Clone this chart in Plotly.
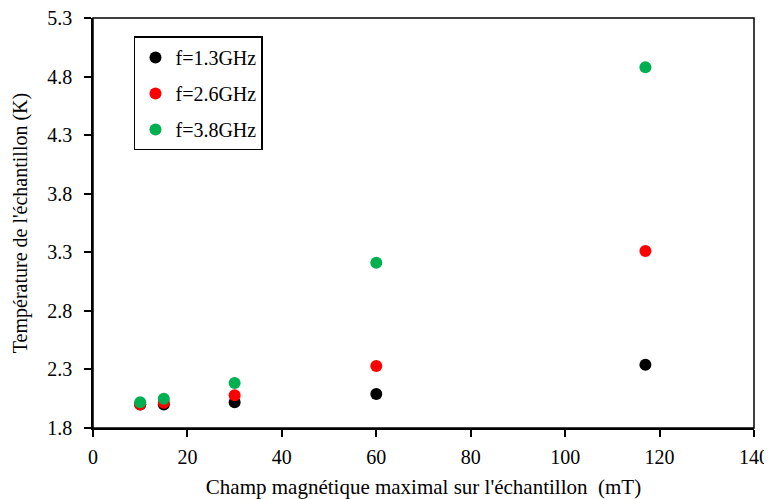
import plotly.graph_objects as go

field_mT = [10, 15, 30, 60, 117]
temp_13 = [2.00, 2.00, 2.02, 2.09, 2.34]
temp_26 = [2.00, 2.015, 2.08, 2.33, 3.31]
temp_38 = [2.02, 2.05, 2.185, 3.21, 4.88]
series_names = ["f=1.3GHz", "f=2.6GHz", "f=3.8GHz"]
series_colors = ["#000000", "#FF0000", "#00B050"]
x_ticks = [0, 20, 40, 60, 80, 100, 120, 140]
y_ticks = [1.8, 2.3, 2.8, 3.3, 3.8, 4.3, 4.8, 5.3]

FONT = "Liberation Serif, Times New Roman, serif"

fig = go.Figure()
for i, (name, ys, col) in enumerate(zip(series_names, [temp_13, temp_26, temp_38], series_colors)):
    fig.add_trace(go.Scatter(
        x=field_mT, y=ys, mode="markers", name=name,
        legendgroup=f"g{i}",
        marker=dict(color=col, size=12, line=dict(width=0)),
    ))

# page body has an 8px default margin, so the figure is 8px smaller than the window
fig.update_layout(
    width=764, height=491,
    margin=dict(l=85, r=18, t=10, b=71),
    plot_bgcolor="white", paper_bgcolor="white",
    font=dict(family=FONT, size=20, color="black"),
    showlegend=True,
    legend=dict(
        x=0.062, y=0.955, xanchor="left", yanchor="top",
        bordercolor="black", borderwidth=1.5, bgcolor="white",
        font=dict(family=FONT, size=20, color="black"),
        traceorder="grouped", tracegroupgap=7,
        itemwidth=30,
    ),
    xaxis=dict(
        range=[0, 140], tickvals=x_ticks, ticktext=[str(v) for v in x_ticks],
        showgrid=False, zeroline=False, showline=True, linecolor="black", linewidth=1.5,
        ticks="outside", ticklen=7, tickwidth=1.5, tickcolor="black", mirror=False,
        automargin=False, ticklabelstandoff=3, ticklabeloverflow="allow",
        title=dict(text="Champ magnétique maximal sur l'échantillon  (mT)", font=dict(size=21), standoff=14),
    ),
    yaxis=dict(
        range=[1.8, 5.3], tickvals=y_ticks, ticktext=[f"{v:.1f}" for v in y_ticks],
        showgrid=False, zeroline=False, showline=True, linecolor="black", linewidth=1.5,
        ticks="outside", ticklen=7, tickwidth=1.5, tickcolor="black", mirror=False,
        automargin=False, ticklabelstandoff=8, ticklabeloverflow="allow",
        title=dict(text="Température de l'échantillon (K)", font=dict(size=20), standoff=14),
    ),
    shapes=[
        dict(type="rect", xref="paper", yref="paper", x0=0, y0=0, x1=1, y1=1,
             line=dict(color="black", width=1.5), layer="above"),
    ],
)

fig.write_html("out.html")
